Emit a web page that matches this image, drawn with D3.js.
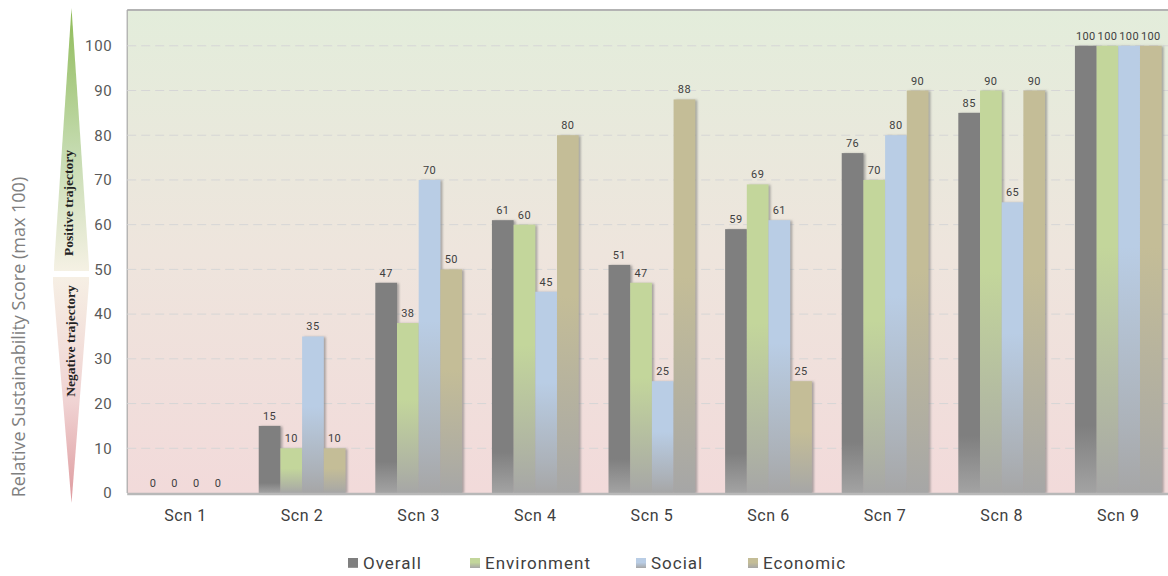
<!DOCTYPE html>
<html>
<head>
<meta charset="utf-8">
<script src="https://cdn.jsdelivr.net/npm/d3@7"></script>
<style>
  body { margin: 0; background: #fff; }
  svg { display: block; }
</style>
</head>
<body>
<div class="chart"></div>
<script>
const width = 1168
const height = 576

// data
const scenarios = ['Scn 1', 'Scn 2', 'Scn 3', 'Scn 4', 'Scn 5', 'Scn 6', 'Scn 7', 'Scn 8', 'Scn 9']
const seriesNames = ['Overall', 'Environment', 'Social', 'Economic']
const overall = [0, 15, 47, 61, 51, 59, 76, 85, 100]
const environment = [0, 10, 38, 60, 47, 69, 70, 90, 100]
const social = [0, 35, 70, 45, 25, 61, 80, 65, 100]
const economic = [0, 10, 50, 80, 88, 25, 90, 90, 100]
const yTicks = [0, 10, 20, 30, 40, 50, 60, 70, 80, 90, 100]

const colors = ['#7f7f7f', '#c3d69b', '#b9cde5', '#c4bd97']
const seriesVals = [overall, environment, social, economic]

const plot = {left: 127.2, right: 1176.6, top: 10, bottom: 493}

const svg = d3.select('.chart').append('svg')
    .attr('width', width)
    .attr('height', height)
    .attr('viewBox', [0, 0, width, height])

const defs = svg.append('defs')

// plot background
const bg = defs.append('linearGradient').attr('id', 'bgGrad')
    .attr('x1', 0).attr('y1', 0).attr('x2', 0).attr('y2', 1)
bg.append('stop').attr('offset', 0).attr('stop-color', '#e3eddb')
bg.append('stop').attr('offset', 0.5).attr('stop-color', '#eee5dd')
bg.append('stop').attr('offset', 1).attr('stop-color', '#f2dada')

// arrows
const pos = defs.append('linearGradient').attr('id', 'posGrad')
    .attr('x1', 0).attr('y1', 0).attr('x2', 0).attr('y2', 1)
pos.append('stop').attr('offset', 0).attr('stop-color', '#8fbb58')
pos.append('stop').attr('offset', 0.55).attr('stop-color', '#c5dbb0')
pos.append('stop').attr('offset', 1).attr('stop-color', '#f5f1e4')
const neg = defs.append('linearGradient').attr('id', 'negGrad')
    .attr('x1', 0).attr('y1', 0).attr('x2', 0).attr('y2', 1)
neg.append('stop').attr('offset', 0).attr('stop-color', '#f6efe4')
neg.append('stop').attr('offset', 0.55).attr('stop-color', '#f0d3d3')
neg.append('stop').attr('offset', 1).attr('stop-color', '#de9a9e')

// bar gradients (colour on top, fading to grey at the base)
colors.forEach((c, i) => {
    const g = defs.append('linearGradient').attr('id', 'barGrad' + i)
        .attr('x1', 0).attr('y1', 0).attr('x2', 0).attr('y2', 1)
    if (i === 0) {
        g.append('stop').attr('offset', 0).attr('stop-color', c)
        g.append('stop').attr('offset', 0.85).attr('stop-color', c)
        g.append('stop').attr('offset', 1).attr('stop-color', '#a3a3a3')
    } else {
        g.append('stop').attr('offset', 0).attr('stop-color', c)
        g.append('stop').attr('offset', 0.45).attr('stop-color', c)
        g.append('stop').attr('offset', 0.85).attr('stop-color', d3.interpolateRgb(c, '#a6a6a6')(0.7))
        g.append('stop').attr('offset', 1).attr('stop-color', '#a6a6a6')
    }
})

const shadow = defs.append('filter').attr('id', 'shadow')
    .attr('x', '-20%').attr('y', '-5%').attr('width', '150%').attr('height', '115%')
shadow.append('feDropShadow').attr('dx', 2).attr('dy', 0.5).attr('stdDeviation', 0.8)
    .attr('flood-color', '#777').attr('flood-opacity', 0.6)

const x = d3.scaleBand()
    .domain(scenarios)
    .range([plot.left, plot.right])
    .paddingInner(0.256)
    .paddingOuter(0.128)

const xs = d3.scaleBand()
    .domain(seriesNames)
    .range([0, x.bandwidth()])

const y = d3.scaleLinear()
    .domain([0, 108])
    .range([plot.bottom, plot.top])

// background + frame
svg.append('rect')
    .attr('x', plot.left).attr('y', plot.top)
    .attr('width', plot.right - plot.left).attr('height', plot.bottom - plot.top)
    .attr('fill', 'url(#bgGrad)')
svg.append('line')
    .attr('x1', plot.left).attr('x2', plot.right)
    .attr('y1', plot.top).attr('y2', plot.top)
    .attr('stroke', '#b3b3b3').attr('stroke-width', 2)
svg.append('line')
    .attr('x1', plot.left).attr('x2', plot.left)
    .attr('y1', plot.top).attr('y2', plot.bottom)
    .attr('stroke', '#a8a8a8').attr('stroke-width', 1.2)

// grid
svg.append('g')
    .selectAll('line')
    .data(yTicks.filter(d => d > 0))
    .join('line')
    .attr('x1', plot.left).attr('x2', plot.right)
    .attr('y1', d => y(d)).attr('y2', d => y(d))
    .attr('stroke', '#d6d6d6')
    .attr('stroke-width', 1)
    .attr('stroke-dasharray', '9,5')

// bars
const rows = scenarios.map((s, i) => seriesNames.map((n, j) => ({scn: s, name: n, j: j, value: seriesVals[j][i]})))

const groups = svg.append('g')
    .selectAll('g')
    .data(rows)
    .join('g')
    .attr('transform', (d, i) => `translate(${x(scenarios[i])},0)`)

groups.selectAll('rect')
    .data(d => d.filter(v => v.value > 0))
    .join('rect')
    .attr('x', d => xs(d.name))
    .attr('y', d => y(d.value))
    .attr('width', xs.bandwidth())
    .attr('height', d => y(0) - y(d.value))
    .attr('fill', d => `url(#barGrad${d.j})`)
    .attr('filter', 'url(#shadow)')

groups.selectAll('text')
    .data(d => d)
    .join('text')
    .attr('x', d => xs(d.name) + xs.bandwidth() / 2)
    .attr('y', d => y(d.value) - 6)
    .attr('text-anchor', 'middle')
    .attr('font-family', 'Roboto, sans-serif')
    .attr('font-size', 11)
    .attr('letter-spacing', 0.4)
    .attr('fill', '#404040')
    .text(d => d.value)

// bottom axis line
svg.append('line')
    .attr('x1', plot.left).attr('x2', plot.right)
    .attr('y1', plot.bottom + 1).attr('y2', plot.bottom + 1)
    .attr('stroke', '#b8b8b8').attr('stroke-width', 2.5)

// y axis
const yAxis = svg.append('g')
    .attr('transform', `translate(${plot.left},0)`)
    .call(d3.axisLeft(y).tickValues(yTicks).tickSize(0).tickPadding(15))
yAxis.select('.domain').remove()
yAxis.selectAll('text')
    .attr('font-family', 'Roboto, sans-serif')
    .attr('font-size', 15)
    .attr('letter-spacing', 0.6)
    .attr('fill', '#595959')

// x axis labels
const xAxis = svg.append('g')
    .attr('transform', `translate(0,${plot.bottom})`)
    .call(d3.axisBottom(x).tickSize(0).tickPadding(17))
xAxis.select('.domain').remove()
xAxis.selectAll('text')
    .attr('font-family', 'Roboto, sans-serif')
    .attr('font-size', 16)
    .attr('letter-spacing', 0.6)
    .attr('fill', '#404040')

// y title
svg.append('text')
    .attr('transform', 'translate(25,337) rotate(-90)')
    .attr('text-anchor', 'middle')
    .attr('font-family', '"Open Sans", sans-serif')
    .attr('font-size', 18)
    .attr('fill', '#7f7f7f')
    .text('Relative Sustainability Score (max 100)')

// trajectory arrows
const ax = 71.5
svg.append('path')
    .attr('d', `M${ax},8 L89,266 L89,271 L54,271 L54,266 Z`)
    .attr('fill', 'url(#posGrad)')
svg.append('path')
    .attr('d', `M53,277 L89,277 L89,283 L${ax},503 L53,283 Z`)
    .attr('fill', 'url(#negGrad)')
svg.append('text')
    .attr('transform', 'translate(72.5,203) rotate(-90)')
    .attr('text-anchor', 'middle')
    .attr('font-family', '"Liberation Serif", serif')
    .attr('font-weight', 'bold')
    .attr('font-size', 13.5)
    .attr('fill', '#222')
    .text('Positive trajectory')
svg.append('text')
    .attr('transform', 'translate(74.5,341) rotate(-90)')
    .attr('text-anchor', 'middle')
    .attr('font-family', '"Liberation Serif", serif')
    .attr('font-weight', 'bold')
    .attr('font-size', 13.5)
    .attr('fill', '#222')
    .text('Negative trajectory')

// legend
const legendX = [348, 470, 636, 748]
const legend = svg.append('g')
    .selectAll('g')
    .data(seriesNames)
    .join('g')
    .attr('transform', (d, i) => `translate(${legendX[i]},569)`)
legend.append('rect')
    .attr('x', 0).attr('y', -11)
    .attr('width', 10).attr('height', 10)
    .attr('fill', (d, i) => `url(#barGrad${i})`)
legend.append('text')
    .attr('x', 15).attr('y', 0)
    .attr('font-family', 'Roboto, sans-serif')
    .attr('font-size', 17)
    .attr('letter-spacing', 1)
    .attr('fill', '#404040')
    .text(d => d)
</script>
</body>
</html>
